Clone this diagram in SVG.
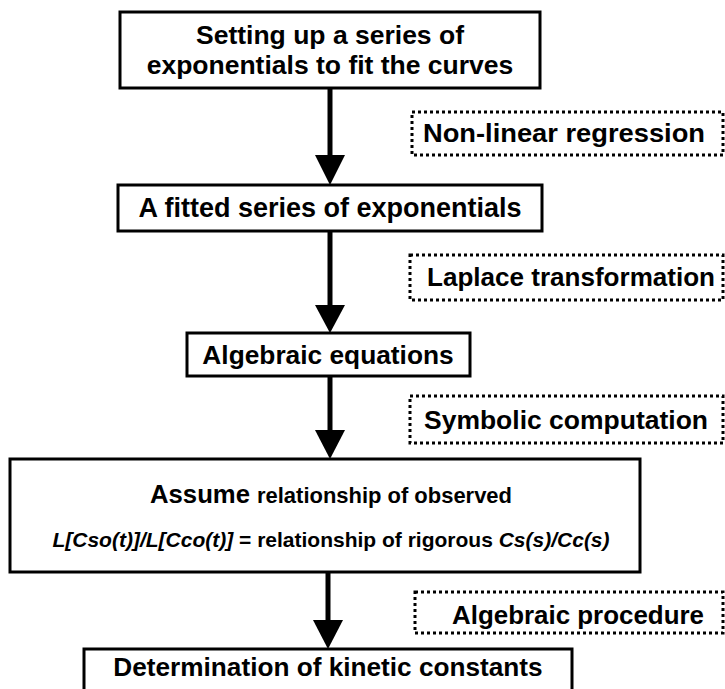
<svg xmlns="http://www.w3.org/2000/svg" width="725" height="689" viewBox="0 0 725 689">
<style>
.box{fill:#fff;stroke:#000;stroke-width:3}
.dot{fill:none;stroke:#000;stroke-width:3;stroke-dasharray:3 3}
.t{font-family:"Liberation Sans",Arial,sans-serif;font-weight:bold;fill:#000}
.c{text-anchor:middle}
.i{font-style:italic}
.conn{stroke:#000;stroke-width:5}
.head{fill:#000}
</style>
<rect width="725" height="689" fill="#fff"/>
<g id="connectors">
<line class="conn" x1="330" y1="88" x2="330" y2="158"/>
<polygon class="head" points="315,155 345,155 330,185"/>
<line class="conn" x1="330" y1="231" x2="330" y2="308"/>
<polygon class="head" points="315,305 345,305 330,333"/>
<line class="conn" x1="330" y1="376" x2="330" y2="433"/>
<polygon class="head" points="315,430 345,430 330,459"/>
<line class="conn" x1="328" y1="572" x2="328" y2="623"/>
<polygon class="head" points="313,620 343,620 328,649"/>
</g>
<g id="n1">
<rect class="box" x="120" y="12" width="420" height="76"/>
<text class="t c" x="330" y="44" font-size="26.5">Setting up a series of</text>
<text class="t c" x="330" y="74" font-size="26.5">exponentials to fit the curves</text>
</g>
<g id="d1">
<rect class="dot" x="412" y="112" width="311" height="43"/>
<text class="t" x="423" y="142" font-size="26" textLength="282" lengthAdjust="spacingAndGlyphs">Non-linear regression</text>
</g>
<g id="n2">
<rect class="box" x="118" y="185" width="424" height="46"/>
<text class="t c" x="330" y="217" font-size="27">A fitted series of exponentials</text>
</g>
<g id="d2">
<rect class="dot" x="410" y="255" width="313" height="45"/>
<text class="t" x="427" y="286" font-size="26" textLength="288" lengthAdjust="spacingAndGlyphs">Laplace transformation</text>
</g>
<g id="n3">
<rect class="box" x="187" y="333" width="283" height="43"/>
<text class="t c" x="328" y="364" font-size="26.3">Algebraic equations</text>
</g>
<g id="d3">
<rect class="dot" x="410" y="396" width="313" height="47"/>
<text class="t" x="424" y="429" font-size="26.5" textLength="284" lengthAdjust="spacingAndGlyphs">Symbolic computation</text>
</g>
<g id="n4">
<rect class="box" x="10" y="459" width="630" height="113"/>
<text class="t" x="150" y="503" font-size="26.5" textLength="100" lengthAdjust="spacingAndGlyphs">Assume</text>
<text class="t" x="257" y="503" font-size="21.5" textLength="255" lengthAdjust="spacingAndGlyphs">relationship of observed</text>
<text class="t c" x="331" y="547" font-size="21"><tspan class="i">L[Cso(t)]/L[Cco(t)]</tspan> = relationship of rigorous <tspan class="i">Cs(s)/Cc(s)</tspan></text>
</g>
<g id="d4">
<rect class="dot" x="415" y="592" width="308" height="41"/>
<text class="t" x="452" y="624" font-size="26.5" textLength="252" lengthAdjust="spacingAndGlyphs">Algebraic procedure</text>
</g>
<g id="n5">
<rect class="box" x="84" y="649" width="488" height="60"/>
<text class="t c" x="328" y="676" font-size="26.2">Determination of kinetic constants</text>
</g>
</svg>
